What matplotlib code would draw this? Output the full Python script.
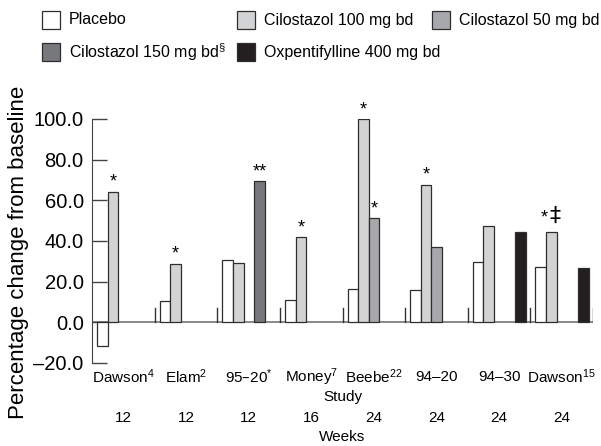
import matplotlib
matplotlib.use('Agg')
import matplotlib.pyplot as plt
from matplotlib.patches import Rectangle
from matplotlib.transforms import blended_transform_factory

plt.rcParams['font.family'] = ['Liberation Sans', 'DejaVu Sans']
plt.rcParams['mathtext.default'] = 'regular'

studies = ['Dawson$^{4}$', 'Elam$^{2}$', '95–20$^{*}$', 'Money$^{7}$',
           'Beebe$^{22}$', '94–20', '94–30', 'Dawson$^{15}$']
weeks = ['12', '12', '12', '16', '24', '24', '24', '24']

series = ['Placebo', 'Cilostazol 100 mg bd', 'Cilostazol 50 mg bd',
          'Cilostazol 150 mg bd$^{\\S}$', 'Oxpentifylline 400 mg bd']
colors = ['#ffffff', '#d2d3d5', '#a7a8ab', '#77787b', '#231f20']

# None = no bar for that study
placebo = [-11.8, 10.7, 30.9, 11.0, 16.4, 16.1, 29.7, 27.2]
cilo100 = [64.2, 28.7, 29.1, 41.9, 99.8, 67.6, 47.6, 44.2]
cilo50 = [None, None, None, None, 51.2, 36.9, None, None]
cilo150 = [None, None, 69.5, None, None, None, None, None]
oxpent = [None, None, None, None, None, None, 44.5, 26.7]
values = [placebo, cilo100, cilo50, cilo150, oxpent]

# (study, series, mark)
stars = [(0, 1, '*'), (1, 1, '*'), (2, 3, '**'), (3, 1, '*'),
         (4, 1, '*'), (4, 2, '*'), (5, 1, '*')]

fig = plt.figure(figsize=(6.01, 4.46), dpi=100)
W, H = 601, 446
ax = fig.add_axes([92 / W, 1 - 363 / H, (593 - 92) / W, (363 - 119) / H])

bw = 0.17
for k, vals in enumerate(values):
    for i, v in enumerate(vals):
        if v is None:
            continue
        ax.bar(i + 0.165 + bw * k, v, width=bw, color=colors[k],
               edgecolor='#2e2e2e', linewidth=0.9, zorder=2)

for i, k, s in stars:
    v = values[k][i]
    ax.text(i + 0.165 + bw * k, v + 0.5, s, ha='center', va='bottom',
            fontsize=13, zorder=3)

# Dawson 15 mark
v = cilo100[7]
x = 7 + 0.165 + bw
ax.text(x - 0.11, v + 3.0, '*', ha='center', va='bottom', fontsize=13)
ax.text(x + 0.06, v + 3.2, '‡', ha='center', va='bottom', fontsize=16,
        family=['DejaVu Sans'])

ax.axhline(0, color='#808080', linewidth=1.3, zorder=1)
for i in range(1, len(studies) + 1):
    ax.plot([i, i], [0, 7], color='#333333', linewidth=1, zorder=1)

ax.set_xlim(0, len(studies))
ax.set_ylim(-20, 100)
ax.set_yticks([-20, 0, 20, 40, 60, 80, 100])
ax.set_yticklabels(['–20.0', '0.0', '20.0', '40.0', '60.0', '80.0', '100.0'])
ax.tick_params(axis='y', direction='in', length=11, width=1,
               color='#444444', labelsize=14.5, pad=6)
ax.set_xticks([])
for side in ['top', 'right', 'bottom']:
    ax.spines[side].set_visible(False)
ax.spines['left'].set_color('#444444')
ax.set_ylabel('Percentage change from baseline', fontsize=16)
ax.yaxis.set_label_coords(-0.125, 0.455)

tr = blended_transform_factory(ax.transData, ax.transAxes)
ah = 363 - 119
for i, (s, w) in enumerate(zip(studies, weeks)):
    ax.text(i + 0.5, -(377 - 363) / ah, s, transform=tr, ha='center',
            va='center', fontsize=11)
    ax.text(i + 0.5, -(418 - 363) / ah, w, transform=tr, ha='center',
            va='center', fontsize=11)
ax.text(0.5, -(397 - 363) / ah, 'Study', transform=ax.transAxes,
        ha='center', va='center', fontsize=11)
ax.text(0.5, -(437 - 363) / ah, 'Weeks', transform=ax.transAxes,
        ha='center', va='center', fontsize=11)

# legend, laid out by hand in a grid
cells = [(42, 20), (237, 20), (432, 20), (42, 52), (237, 52)]
for (px, py), lab, c in zip(cells, series, colors):
    fig.add_artist(Rectangle((px / W, 1 - (py + 9) / H), 18 / W, 18 / H,
                             transform=fig.transFigure, facecolor=c,
                             edgecolor='#2e2e2e', linewidth=0.9))
    fig.text((px + 27) / W, 1 - py / H, lab, ha='left', va='center',
             fontsize=11.5)

fig.savefig('out.png', dpi=100)
